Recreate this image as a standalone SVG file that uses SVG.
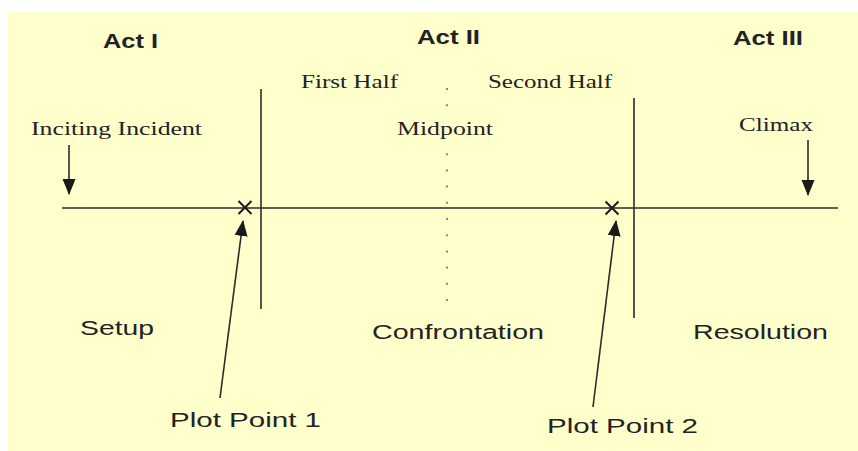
<svg xmlns="http://www.w3.org/2000/svg" width="858" height="451" viewBox="0 0 858 451">
<style>
.act{font-family:"Liberation Sans",Arial,sans-serif;font-weight:700;font-size:20px;fill:#222}
.sec{font-family:"Liberation Sans",Arial,sans-serif;font-size:20px;fill:#222}
.ser{font-family:"Liberation Serif","Times New Roman",serif;font-size:18px;fill:#222}
.ln{stroke:#2a2a2a;stroke-width:1.6;fill:none}
.xm{stroke:#1a1a1a;stroke-width:2;fill:none}
.ar{stroke:#2a2a2a;stroke-width:1.6;fill:none;marker-end:url(#ah)}
.dot{stroke:#8a8a7a;stroke-width:2;stroke-dasharray:2 14.2;fill:none}
</style>
<defs>
<marker id="ah" markerUnits="userSpaceOnUse" markerWidth="16" markerHeight="14" viewBox="0 0 16 14" refX="15" refY="7" orient="auto">
<path d="M0,0.5 L16,7 L0,13.5 Z" fill="#1a1a1a"/>
</marker>
</defs>
<rect x="8" y="12" width="850" height="439" fill="#FFFFCC"/>
<g id="timeline">
<line class="ln" x1="62" y1="208" x2="838" y2="208"/>
<line class="ln" x1="261" y1="89" x2="261" y2="309"/>
<line class="ln" x1="634" y1="98" x2="634" y2="318"/>
<line class="dot" x1="447" y1="88" x2="447" y2="108"/>
<line class="dot" x1="447" y1="153.2" x2="447" y2="302"/>
</g>
<g id="act1"><text class="act" x="103" y="48" textLength="55" lengthAdjust="spacingAndGlyphs">Act I</text></g>
<g id="act2"><text class="act" x="417" y="44" textLength="63" lengthAdjust="spacingAndGlyphs">Act II</text></g>
<g id="act3"><text class="act" x="733" y="45" textLength="70" lengthAdjust="spacingAndGlyphs">Act III</text></g>
<g id="first-half"><text class="ser" x="301" y="88" textLength="97" lengthAdjust="spacingAndGlyphs">First Half</text></g>
<g id="second-half"><text class="ser" x="488" y="88" textLength="124" lengthAdjust="spacingAndGlyphs">Second Half</text></g>
<g id="inciting"><text class="ser" x="31" y="135" textLength="171" lengthAdjust="spacingAndGlyphs">Inciting Incident</text></g>
<g id="midpoint"><text class="ser" x="397" y="135" textLength="96" lengthAdjust="spacingAndGlyphs">Midpoint</text></g>
<g id="climax"><text class="ser" x="739" y="131" textLength="74" lengthAdjust="spacingAndGlyphs">Climax</text></g>
<g id="pp1-mark"><path class="xm" d="M238.5,201 L251.5,214 M251.5,201 L238.5,214"/></g>
<g id="pp2-mark"><path class="xm" d="M605.5,201.5 L618.5,214.5 M618.5,201.5 L605.5,214.5"/></g>
<g id="setup"><text class="sec" x="80" y="335" textLength="74" lengthAdjust="spacingAndGlyphs">Setup</text></g>
<g id="confrontation"><text class="sec" x="372" y="339" textLength="172" lengthAdjust="spacingAndGlyphs">Confrontation</text></g>
<g id="resolution"><text class="sec" x="693" y="339" textLength="135" lengthAdjust="spacingAndGlyphs">Resolution</text></g>
<g id="plot-point-1"><text class="sec" x="170" y="427" textLength="151" lengthAdjust="spacingAndGlyphs">Plot Point 1</text></g>
<g id="plot-point-2"><text class="sec" x="547" y="433" textLength="151" lengthAdjust="spacingAndGlyphs">Plot Point 2</text></g>
<g id="connectors">
<line class="ar" x1="69" y1="145" x2="69" y2="194"/>
<line class="ar" x1="808" y1="140" x2="808" y2="195"/>
<line class="ar" x1="220" y1="398" x2="243" y2="221"/>
<line class="ar" x1="593" y1="407" x2="616" y2="221"/>
</g>
</svg>
